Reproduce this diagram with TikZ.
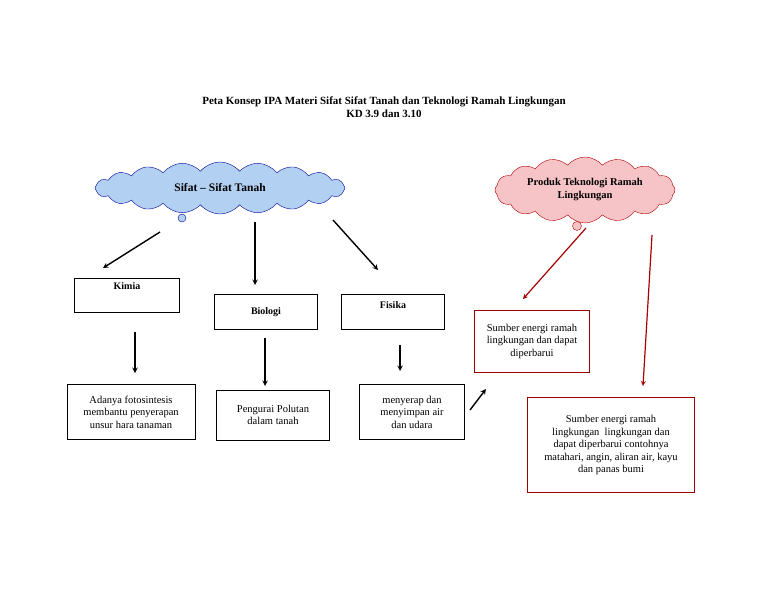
\documentclass[tikz,border=0pt]{standalone}
\usepackage{fontspec}
\setmainfont{Liberation Serif}
\usetikzlibrary{shapes.symbols,positioning}
\definecolor{cloudblue}{RGB}{178,208,242}
\definecolor{cloudpink}{RGB}{246,196,198}
\begin{document}
\begin{tikzpicture}[x=1pt,y=-1pt,font=\fontsize{10.5}{12.5}\selectfont,
  box/.style={draw,line width=1pt,align=center,inner sep=3pt},
  redbox/.style={draw=red!60!black,line width=1pt,align=center,inner sep=3pt},
  arr/.style={->,>=stealth,line width=1.4pt},
  redarr/.style={->,>=stealth,line width=1.2pt,color=red!65!black}]
\useasboundingbox (0,0) rectangle (768,594);
\node[font=\fontsize{11}{13.5}\selectfont\bfseries,align=center] (title) at (384,107)
  {Peta Konsep IPA Materi Sifat Sifat Tanah dan Teknologi Ramah Lingkungan\\KD 3.9 dan 3.10};
\node[cloud,cloud puffs=20,cloud puff arc=100,cloud ignores aspect,draw=blue!60!black,fill=cloudblue,minimum width=250pt,minimum height=52pt,
  font=\fontsize{11.5}{13}\selectfont\bfseries] (sifat) at (220,188) {Sifat -- Sifat Tanah};
\node[circle,draw=blue!60!black,fill=cloudblue,minimum size=8pt,inner sep=0pt] (b1) at (182,218) {};
\node[cloud,cloud puffs=16,cloud puff arc=100,cloud ignores aspect,draw=red!70!black,fill=cloudpink,minimum width=180pt,minimum height=66pt,
  align=center,font=\fontsize{10.5}{13}\selectfont\bfseries] (produk) at (585,190) {Produk Teknologi Ramah\\Lingkungan};
\node[circle,draw=red!70!black,fill=cloudpink,minimum size=9pt,inner sep=0pt] (b2) at (577,226) {};
% kotak
\node[box,minimum width=105pt,minimum height=34pt,font=\bfseries,anchor=north,text depth=18pt] (kimia) at (127,278) {Kimia};
\node[box,minimum width=103pt,minimum height=35pt,font=\bfseries] (biologi) at (266,312) {Biologi};
\node[box,minimum width=103pt,minimum height=35pt,font=\bfseries,text depth=14pt] (fisika) at (393,312) {Fisika};
\node[box,minimum width=128pt,minimum height=55pt] (adanya) at (131,412) {Adanya fotosintesis\\membantu penyerapan\\unsur hara tanaman};
\node[box,minimum width=113pt,minimum height=50pt] (pengurai) at (273,415) {Pengurai Polutan\\dalam tanah};
\node[box,minimum width=105pt,minimum height=55pt] (menyerap) at (412,412) {menyerap dan\\menyimpan air\\dan udara};
\node[redbox,minimum width=115pt,minimum height=62pt] (sumber1) at (532,341) {Sumber energi ramah\\lingkungan dan dapat\\diperbarui};
\node[redbox,minimum width=167pt,minimum height=95pt] (sumber2) at (611,445) {Sumber energi ramah\\lingkungan\ \ lingkungan dan\\dapat diperbarui contohnya\\matahari, angin, aliran air, kayu\\dan panas bumi};
% ujung panah
\coordinate (s1) at (160,232); \coordinate (k1) at (103,268);
\coordinate (s2) at (255,222); \coordinate (k2) at (255,285);
\coordinate (s3) at (333,220); \coordinate (k3) at (378,270);
\coordinate (a1) at (135,332); \coordinate (a2) at (135,373);
\coordinate (b3) at (265,338); \coordinate (b4) at (265,386);
\coordinate (f1) at (400,345); \coordinate (f2) at (400,371);
\coordinate (m1) at (470,410); \coordinate (m2) at (486,389);
\coordinate (p1) at (586,228); \coordinate (p2) at (523,299);
\coordinate (p3) at (652,235); \coordinate (p4) at (643,386);
\draw[arr] (s1) -- (k1);
\draw[arr] (s2) -- (k2);
\draw[arr] (s3) -- (k3);
\draw[arr] (a1) -- (a2);
\draw[arr] (b3) -- (b4);
\draw[arr] (f1) -- (f2);
\draw[arr] (m1) -- (m2);
\draw[redarr] (p1) -- (p2);
\draw[redarr] (p3) -- (p4);
\end{tikzpicture}
\end{document}
